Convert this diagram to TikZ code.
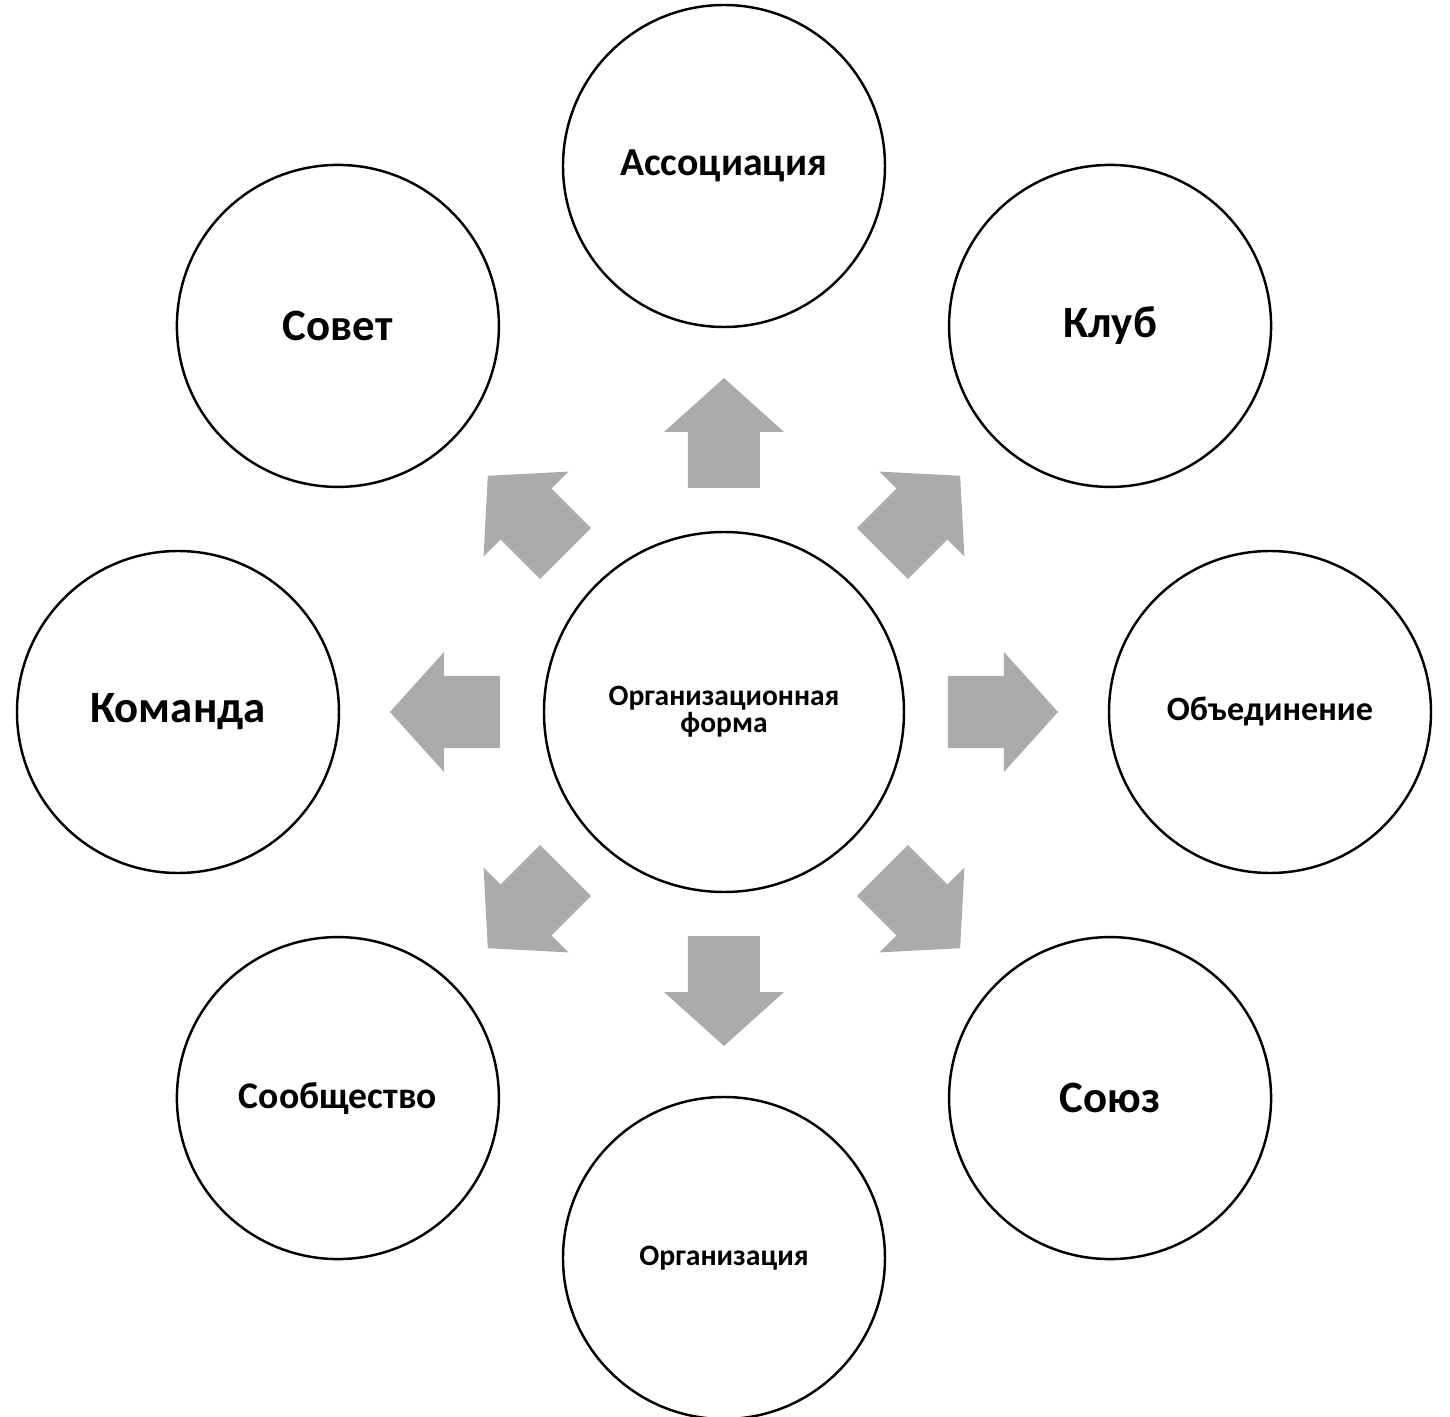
\documentclass[tikz,border=0pt]{standalone}
\usepackage{fontspec}
\setmainfont{Carlito}
\usetikzlibrary{calc,positioning}
\definecolor{ArrGray}{HTML}{ABABAB}
\tikzset{
    form/.style = {draw, circle, line width=1.4pt,
        minimum size=6.44cm, inner sep=0pt, align=center, font=\bfseries},
    hub/.style = {form, minimum size=7.2cm},
    blockarrow/.style = {fill=ArrGray, draw=none}
}
\newcommand{\fsz}[1]{\fontsize{#1}{\dimexpr#1\relax}\selectfont}

\begin{document}
\begin{tikzpicture}
        \useasboundingbox (-14.48,-14.10) rectangle (14.52,14.24);
        \node [hub, name=hub] at (0,0) {\fsz{16.8pt}Организационная\\\fsz{16.8pt}форма};
        % outer circles, counter-clockwise from the top
        \foreach \ang/\nm/\sz/\txt in {90/assoc/22.6pt/Ассоциация, 45/club/25.5pt/Клуб,
            0/unite/19.4pt/Объединение, -45/union/25.5pt/Союз, -90/org/16.9pt/Организация,
            -135/comm/21.4pt/Сообщество, 180/team/25.5pt/Команда, 135/council/25.5pt/Совет}{
            \node [form, name=\nm] at (\ang:10.92) {\fsz{\sz}\txt};
            \fill [blockarrow, rotate=\ang] (4.48,-0.72) -- (5.6,-0.72) -- (5.6,-1.2)
                -- (6.68,0) -- (5.6,1.2) -- (5.6,0.72) -- (4.48,0.72) -- cycle;
        }
\end{tikzpicture}
\end{document}
